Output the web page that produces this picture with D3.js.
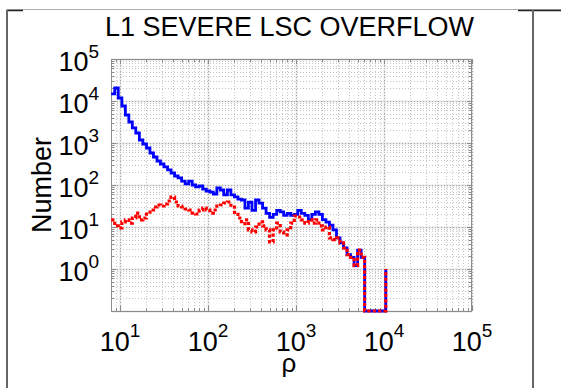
<!DOCTYPE html>
<html>
<head>
<meta charset="utf-8">
<script src="https://cdn.jsdelivr.net/npm/d3@7"></script>
<style>
  html, body { margin: 0; padding: 0; background: #fff; }
  svg { display: block; font-family: "Liberation Sans", Arial, Helvetica, sans-serif; }
</style>
</head>
<body>
<svg id="chart" width="561" height="388"></svg>
<script>
// Histogram bin left edges (rho), log-uniform bins
const rhoEdges = [
  7.94, 8.71, 9.55, 10.5, 11.5, 12.6, 13.8, 15.1, 16.6, 18.2,
  20.0, 21.9, 24.0, 26.3, 28.8, 31.6, 34.7, 38.0, 41.7, 45.7,
  50.1, 55.0, 60.3, 66.1, 72.4, 79.4, 87.1, 95.5, 105, 115,
  126, 138, 151, 166, 182, 200, 219, 240, 263, 288,
  316, 347, 380, 417, 457, 501, 550, 603, 661, 724,
  794, 871, 955, 1047, 1148, 1259, 1380, 1514, 1660, 1820,
  1995, 2188, 2399, 2630, 2884, 3162, 3467, 3802, 4169, 4571,
  5012, 5495, 6026, 6607, 7244, 7943, 8710, 9550, 10470
];

// Counts per bin: all events (blue)
const countsAll = [
  14700, 20400, 11800, 7600, 4640, 3160, 2280, 1730, 1180, 946,
  760, 578, 464, 373, 316, 269, 228, 193, 164, 147,
  124, 106, 124, 100, 90, 95, 80, 72, 68, 61,
  85, 76, 58, 76, 58, 52, 46, 44, 28, 39,
  25, 44, 37, 28, 21, 17, 20, 25, 23, 19,
  21, 19, 20, 25, 21, 19, 15, 20, 23, 20,
  15, 13, 11, 8.5, 5.5, 4.2, 3.2, 2.2, 1.9, 1.2,
  2.8, 1.9, 0, 0, 0, 0, 0, 0, 1
];

// Counts per bin: severe overflow (red)
const countsSevere = [
  14.7, 10.6, 9.5, 13.2, 14.7, 12.4, 16.4, 21.5, 14.7, 16.4,
  20.4, 25.4, 29.9, 33.4, 31.6, 35.3, 41.6, 51.8, 39.4, 31.6,
  29.9, 26.8, 25.4, 21.5, 20.4, 25.4, 28.3, 25.4, 21.5, 25.4,
  31.6, 33.4, 37.3, 39.4, 29.9, 20, 16.4, 12, 14.7, 8.5,
  7.6, 10, 13.2, 10.6, 8.5, 4.4, 8.5, 12.4, 7.6, 6.5,
  8.5, 12.4, 18.3, 17.3, 14.7, 12.4, 14.7, 12.4, 14.7, 10.6,
  8.5, 10, 5.5, 5, 5.5, 4.2, 3.2, 2.2, 1.9, 1.2,
  2.8, 1.9, 0, 0, 0, 0, 0, 0, 1
];

const xDomain = [7.9, 1e5];
const yDomain = [0.1, 1e5];
const xTickExps = [1, 2, 3, 4, 5];
const yTickExps = [0, 1, 2, 3, 4, 5];
const titleText = "L1 SEVERE LSC OVERFLOW";
const xLabel = "\u03c1";
const yLabel = "Number";

const W = 561, H = 388;
const plot = { left: 111, right: 472, top: 59, bottom: 311 };

const svg = d3.select("#chart");

const x = d3.scaleLog().domain(xDomain).range([plot.left, plot.right]);
const y = d3.scaleLog().domain(yDomain).range([plot.bottom, plot.top]);

// Page frame lines
svg.append("line").attr("x1", 7).attr("x2", W).attr("y1", 9.5).attr("y2", 9.5)
  .attr("stroke", "#b0b0b0").attr("stroke-width", 1);
svg.append("line").attr("x1", 6).attr("x2", 23).attr("y1", 10.5).attr("y2", 10.5)
  .attr("stroke", "#222").attr("stroke-width", 1.5);
svg.append("line").attr("x1", 518).attr("x2", W).attr("y1", 10.5).attr("y2", 10.5)
  .attr("stroke", "#222").attr("stroke-width", 1.5);
svg.append("line").attr("x1", 7).attr("x2", 7).attr("y1", 10).attr("y2", H)
  .attr("stroke", "#666").attr("stroke-width", 2);
svg.append("line").attr("x1", 533).attr("x2", 533).attr("y1", 10).attr("y2", H)
  .attr("stroke", "#666").attr("stroke-width", 2);

// Log grid values
function logGrid(lo, hi) {
  const out = [];
  for (let e = Math.floor(Math.log10(lo)); e <= Math.ceil(Math.log10(hi)); e++) {
    for (let m = 1; m <= 9; m++) {
      const v = m * Math.pow(10, e);
      if (v >= lo * 0.999 && v <= hi * 1.001) out.push({ v, major: m === 1 });
    }
  }
  return out;
}
const xGrid = logGrid(xDomain[0], xDomain[1]);
const yGrid = logGrid(yDomain[0], yDomain[1]);

const grid = svg.append("g");
// soft band under major lines
grid.selectAll("line.xm").data(xGrid.filter(d => d.major)).join("line")
  .attr("x1", d => Math.round(x(d.v)) + 0.5).attr("x2", d => Math.round(x(d.v)) + 0.5)
  .attr("y1", plot.top).attr("y2", plot.bottom)
  .attr("stroke", "#d8d8d8").attr("stroke-width", 2).attr("opacity", 0.6);
grid.selectAll("line.ym").data(yGrid.filter(d => d.major)).join("line")
  .attr("y1", d => Math.round(y(d.v)) + 0.5).attr("y2", d => Math.round(y(d.v)) + 0.5)
  .attr("x1", plot.left).attr("x2", plot.right)
  .attr("stroke", "#d8d8d8").attr("stroke-width", 2).attr("opacity", 0.6);
// dotted grid at every decade and sub-decade value
grid.selectAll("line.xg").data(xGrid).join("line")
  .attr("x1", d => Math.round(x(d.v)) + 0.5).attr("x2", d => Math.round(x(d.v)) + 0.5)
  .attr("y1", plot.top).attr("y2", plot.bottom)
  .attr("stroke", d => d.major ? "#a8a8a8" : "#c4c4c4")
  .attr("stroke-width", 1)
  .attr("stroke-dasharray", "1,2");
grid.selectAll("line.yg").data(yGrid).join("line")
  .attr("y1", d => Math.round(y(d.v)) + 0.5).attr("y2", d => Math.round(y(d.v)) + 0.5)
  .attr("x1", plot.left).attr("x2", plot.right)
  .attr("stroke", d => d.major ? "#a8a8a8" : "#c4c4c4")
  .attr("stroke-width", 1)
  .attr("stroke-dasharray", "1,2");

// Axis ticks (inward, all four sides)
const ticks = svg.append("g").attr("stroke", "#8c8c8c").attr("stroke-width", 1);
xGrid.forEach(d => {
  const px = Math.round(x(d.v)) + 0.5, len = d.major ? 5 : 3;
  ticks.append("line").attr("x1", px).attr("x2", px).attr("y1", plot.bottom).attr("y2", plot.bottom - len);
  ticks.append("line").attr("x1", px).attr("x2", px).attr("y1", plot.top).attr("y2", plot.top + len);
});
yGrid.forEach(d => {
  const py = Math.round(y(d.v)) + 0.5, len = d.major ? 5 : 3;
  ticks.append("line").attr("y1", py).attr("y2", py).attr("x1", plot.left).attr("x2", plot.left + len);
  ticks.append("line").attr("y1", py).attr("y2", py).attr("x1", plot.right).attr("x2", plot.right - len);
});

// Axes box
svg.append("rect")
  .attr("x", plot.left + 0.5).attr("y", plot.top + 0.5)
  .attr("width", plot.right - plot.left - 1).attr("height", plot.bottom - plot.top)
  .attr("fill", "none").attr("stroke", "#8c8c8c").attr("stroke-width", 1);

// Clip for data lines
svg.append("clipPath").attr("id", "plotClip").append("rect")
  .attr("x", plot.left - 2).attr("y", plot.top - 2)
  .attr("width", plot.right - plot.left + 4).attr("height", plot.bottom - plot.top + 4);

const yMin = yDomain[0];
const stairs = d3.line()
  .x(d => x(d[0]))
  .y(d => y(Math.max(d[1], yMin)))
  .curve(d3.curveStepAfter);

const lines = svg.append("g").attr("clip-path", "url(#plotClip)");
lines.append("path")
  .datum(rhoEdges.map((r, i) => [r, countsAll[i]]))
  .attr("d", stairs)
  .attr("fill", "none").attr("stroke", "#0000ff").attr("stroke-width", 2.8)
  .attr("stroke-linejoin", "miter");
lines.append("path")
  .datum(rhoEdges.map((r, i) => [r, countsSevere[i]]))
  .attr("d", stairs)
  .attr("fill", "none").attr("stroke", "#ff0000").attr("stroke-width", 3.2)
  .attr("stroke-dasharray", "3.2,2.2");

// Tick labels
const baseSize = 27, supSize = 19;
xTickExps.forEach(e => {
  const t = svg.append("text")
    .attr("x", x(Math.pow(10, e))).attr("y", 351)
    .attr("text-anchor", "middle").attr("font-size", baseSize).attr("fill", "#000");
  t.append("tspan").text("10");
  t.append("tspan").attr("font-size", supSize).attr("dy", -14).text(String(e));
});
yTickExps.forEach(e => {
  const t = svg.append("text")
    .attr("x", 99).attr("y", y(Math.pow(10, e)) + 11.5)
    .attr("text-anchor", "end").attr("font-size", baseSize).attr("fill", "#000");
  t.append("tspan").text("10");
  t.append("tspan").attr("font-size", supSize).attr("dy", -13).text(String(e));
});

// Title and axis labels
svg.append("text")
  .attr("x", 289.5).attr("y", 36)
  .attr("text-anchor", "middle").attr("font-size", 27).attr("fill", "#000")
  .text(titleText);
svg.append("text")
  .attr("x", 289).attr("y", 372)
  .attr("text-anchor", "middle").attr("font-size", 26).attr("fill", "#000")
  .text(xLabel);
svg.append("text")
  .attr("transform", "translate(51," + ((plot.top + plot.bottom) / 2) + ") rotate(-90)")
  .attr("text-anchor", "middle").attr("font-size", 27).attr("fill", "#000")
  .text(yLabel);
</script>
</body>
</html>
